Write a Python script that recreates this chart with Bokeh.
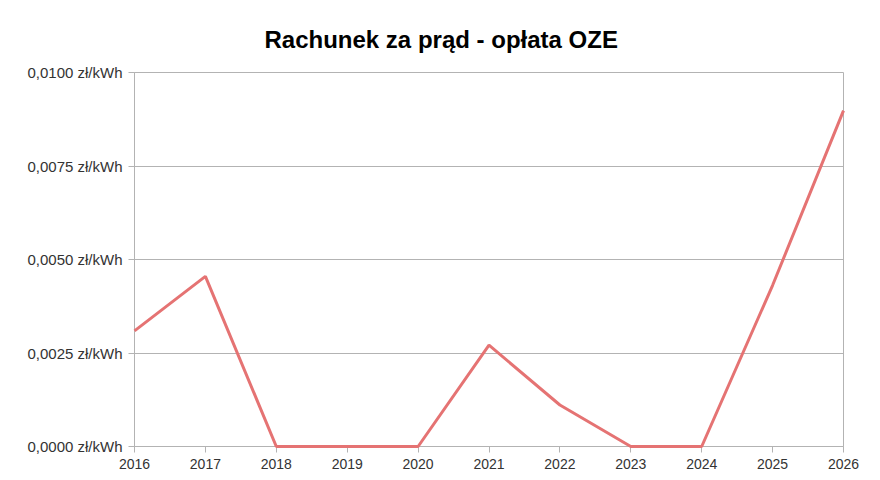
from bokeh.plotting import figure
from bokeh.models import Range1d, FixedTicker, CustomJSTickFormatter
from bokeh.embed import file_html
from bokeh.resources import INLINE

years = [2016, 2017, 2018, 2019, 2020, 2021, 2022, 2023, 2024, 2025, 2026]
oze_fee = [0.00309, 0.00455, 0.0, 0.0, 0.0, 0.00271, 0.00111, 0.0, 0.0, 0.00431, 0.00898]
y_ticks = [0.0, 0.0025, 0.005, 0.0075, 0.01]

p = figure(width=880, height=480, output_backend="svg", toolbar_location=None,
           x_range=Range1d(2016, 2026), y_range=Range1d(0, 0.01),
           min_border_left=134, min_border_right=37, min_border_bottom=34, min_border_top=72,
           title="Rachunek za prąd - opłata OZE")

p.title.align = "left"
p.title.offset = 130
p.title.standoff = 40
p.title.text_font = "Liberation Sans"
p.title.text_font_size = "24px"
p.title.text_font_style = "bold"
p.title.text_color = "#000000"

r = p.line(years, oze_fee, line_color="#e57373", line_width=3)
r.level = "overlay"

p.xaxis.ticker = FixedTicker(ticks=years)
p.yaxis.ticker = FixedTicker(ticks=y_ticks)
p.yaxis.formatter = CustomJSTickFormatter(code="return tick.toFixed(4).replace('.', ',') + ' zł/kWh';")
p.xaxis.formatter = CustomJSTickFormatter(code="return tick.toFixed(0);")

for ax in (p.xaxis, p.yaxis):
    ax.axis_line_color = "#b3b3b3"
    ax.major_tick_line_color = "#b3b3b3"
    ax.major_tick_out = 6
    ax.major_tick_in = 0
    ax.minor_tick_line_color = None
    ax.major_label_text_font = "Liberation Sans"
    ax.major_label_text_color = "#333333"
p.xaxis.major_label_text_font_size = "14px"
p.yaxis.major_label_text_font_size = "15px"
p.yaxis.major_label_standoff = 6
p.xaxis.major_label_standoff = 6

p.xgrid.grid_line_color = None
p.ygrid.grid_line_color = "#b3b3b3"
p.outline_line_color = "#b3b3b3"

open("out.html", "w").write(file_html(p, INLINE))
